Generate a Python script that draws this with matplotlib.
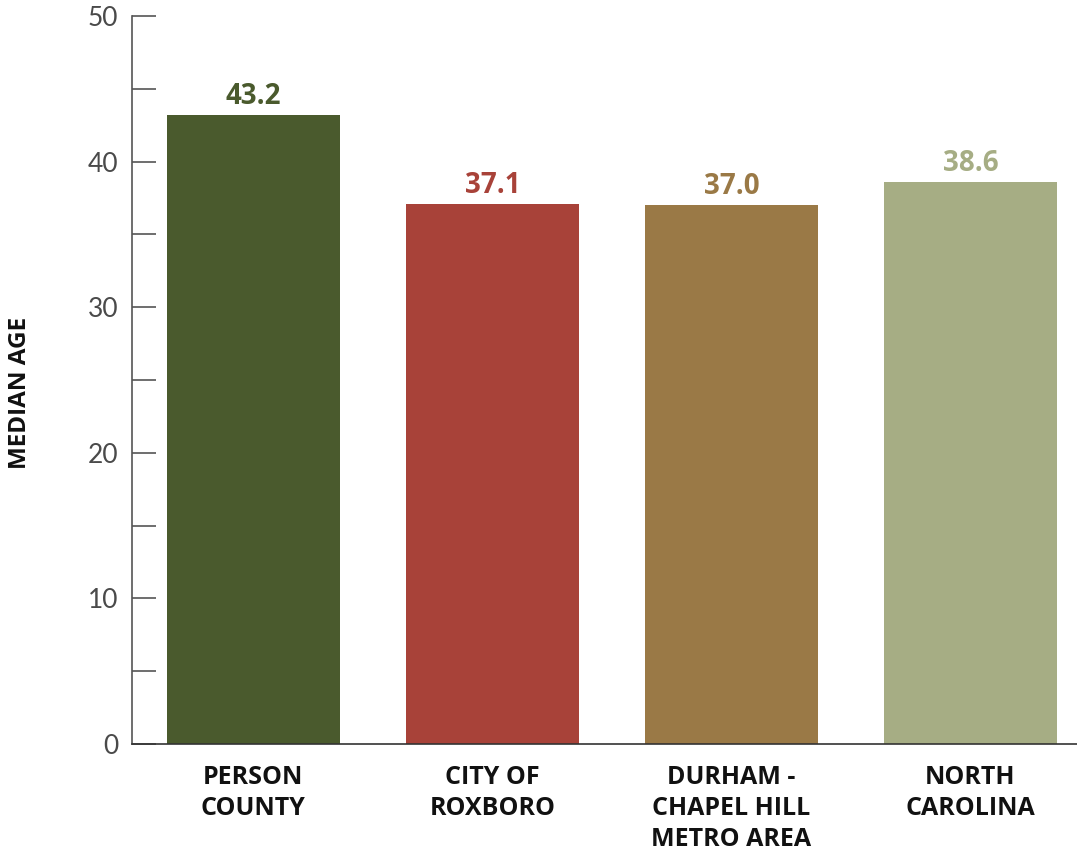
import matplotlib
matplotlib.use("Agg")
import matplotlib.pyplot as plt
from matplotlib.ticker import MultipleLocator

categories = ["PERSON\nCOUNTY", "CITY OF\nROXBORO", "DURHAM -\nCHAPEL HILL\nMETRO AREA", "NORTH\nCAROLINA"]
values = [43.2, 37.1, 37.0, 38.6]
value_labels = ["43.2", "37.1", "37.0", "38.6"]
colors = ["#4a5a2d", "#a84239", "#9a7946", "#a6ad84"]
yticks = [0, 10, 20, 30, 40, 50]

fig = plt.figure(figsize=(10.77, 8.55), dpi=100)
ax = fig.add_axes([132/1077, 1-744/855, 1-132/1077, (744-16)/855])

x = list(range(len(categories)))
bars = ax.bar(x, values, width=0.724, color=colors, zorder=2)

for xi, v, lab, c in zip(x, values, value_labels, colors):
    ax.annotate(lab, (xi, v), xytext=(0, 3), textcoords="offset points",
                ha="center", va="bottom", fontsize=20, fontweight="bold",
                color=c, family="Open Sans")

ax.set_xlim(-0.508, 3.446)
ax.set_ylim(0, 50)
ax.set_yticks(yticks)
ax.set_yticklabels([str(t) for t in yticks], family="Lato", fontweight="normal",
                   fontsize=19, color="#4a4a4a")
ax.yaxis.set_minor_locator(MultipleLocator(5))
ax.tick_params(axis="y", which="both", direction="in", length=17, width=1.2,
               color="#555555", pad=10)
ax.set_xticks(x)
ax.set_xticklabels(categories, family="Open Sans", fontweight="bold", fontsize=18,
                   color="#111111", linespacing=1.33)
ax.tick_params(axis="x", length=0, pad=15)

for s in ["top", "right"]:
    ax.spines[s].set_visible(False)
ax.spines["left"].set_color("#555555")
ax.spines["left"].set_linewidth(1.2)
ax.spines["bottom"].set_color("#333333")
ax.spines["bottom"].set_linewidth(1.2)

ax.set_ylabel("MEDIAN AGE", family="Open Sans", fontweight="bold", fontsize=17.5,
              color="#111111")
ax.yaxis.set_label_coords(-0.106, 0.482)

fig.savefig("out.png", dpi=100)
